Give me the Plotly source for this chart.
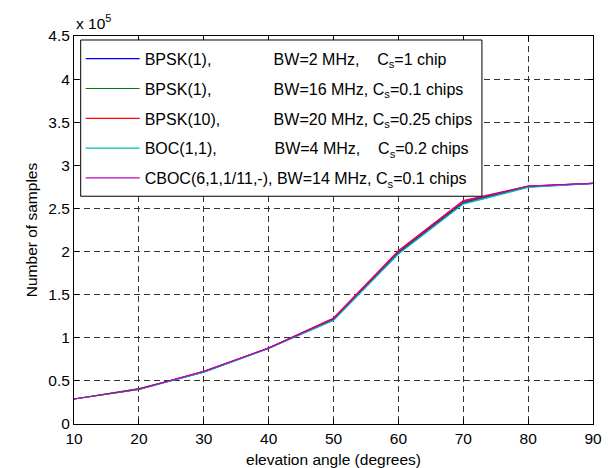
import plotly.graph_objects as go

elevation = [10, 20, 30, 40, 50, 60, 70, 80, 90]

# Number of samples (in units of 1e5)
bpsk1_bw2 = [0.29, 0.405, 0.605, 0.88, 1.22, 1.99, 2.57, 2.755, 2.79]
bpsk1_bw16 = [0.29, 0.41, 0.60, 0.88, 1.21, 1.98, 2.56, 2.75, 2.79]
bpsk10_bw20 = [0.29, 0.40, 0.61, 0.88, 1.23, 2.01, 2.59, 2.76, 2.79]
boc11_bw4 = [0.29, 0.40, 0.60, 0.875, 1.20, 1.97, 2.55, 2.745, 2.79]
cboc_bw14 = [0.29, 0.405, 0.61, 0.88, 1.22, 2.00, 2.58, 2.76, 2.79]

NB = "\u00a0"
names = [
    "BPSK(1)," + NB * 14 + "BW=2 MHz," + NB * 4 + "C<sub>s</sub>=1 chip",
    "BPSK(1)," + NB * 14 + "BW=16 MHz, C<sub>s</sub>=0.1 chips",
    "BPSK(10)," + NB * 12 + "BW=20 MHz, C<sub>s</sub>=0.25 chips",
    "BOC(1,1)," + NB * 13 + "BW=4 MHz," + NB * 4 + "C<sub>s</sub>=0.2 chips",
    "CBOC(6,1,1/11,-), BW=14 MHz, C<sub>s</sub>=0.1 chips",
]
series = [bpsk1_bw2, bpsk1_bw16, bpsk10_bw20, boc11_bw4, cboc_bw14]
colors = ["#0000ff", "#008000", "#ff0000", "#00bfbf", "#bf00bf"]

fig = go.Figure()
for i, (nm, ys, c) in enumerate(zip(names, series, colors)):
    fig.add_trace(go.Scatter(x=elevation, y=ys, mode="lines", name=nm,
                             line=dict(color=c, width=1.2), legendgroup=f"g{i}"))

axis_common = dict(
    showline=True, linecolor="black", linewidth=1, mirror="ticks",
    ticks="inside", ticklen=5, tickcolor="black", tickwidth=1,
    showgrid=True, gridcolor="#333333", gridwidth=1, griddash="6px,4px",
    zeroline=False, automargin=False,
    tickfont=dict(family="Liberation Sans", size=15.5, color="black"),
)

# page body has an 8px margin: figure is offset by (8, 8) in the window
fig.update_layout(
    width=605, height=460,
    margin=dict(l=66, r=20, t=28, b=44, autoexpand=False),
    plot_bgcolor="white", paper_bgcolor="white",
    font=dict(family="Liberation Sans", size=15.5, color="black"),
    xaxis=dict(range=[10, 90], tickvals=[10, 20, 30, 40, 50, 60, 70, 80, 90],
               ticklabelstandoff=0,
               title=dict(text="elevation angle (degrees)", font=dict(size=15.5), standoff=8),
               **axis_common),
    yaxis=dict(range=[0, 4.5], dtick=0.5, tick0=0,
               title=dict(text="Number of samples", font=dict(size=15.5), standoff=6),
               **axis_common),
    legend=dict(x=0.0129, y=0.985, xanchor="left", yanchor="top",
                bgcolor="rgba(0,0,0,0)", borderwidth=0,
                font=dict(family="Liberation Sans", size=16, color="black"),
                itemwidth=54, tracegroupgap=6),
    showlegend=True,
    shapes=[dict(type="rect", xref="paper", yref="paper",
                 x0=0.0129, x1=0.786, y0=0.587, y1=0.9897,
                 fillcolor="white", line=dict(color="black", width=1), layer="above")],
    annotations=[dict(text="x 10<sup>5</sup>", xref="paper", yref="paper",
                      x=0, y=1, xanchor="left", yanchor="bottom", yshift=2,
                      showarrow=False, font=dict(size=15.5, color="black"))],
)

fig.write_html("out.html")
